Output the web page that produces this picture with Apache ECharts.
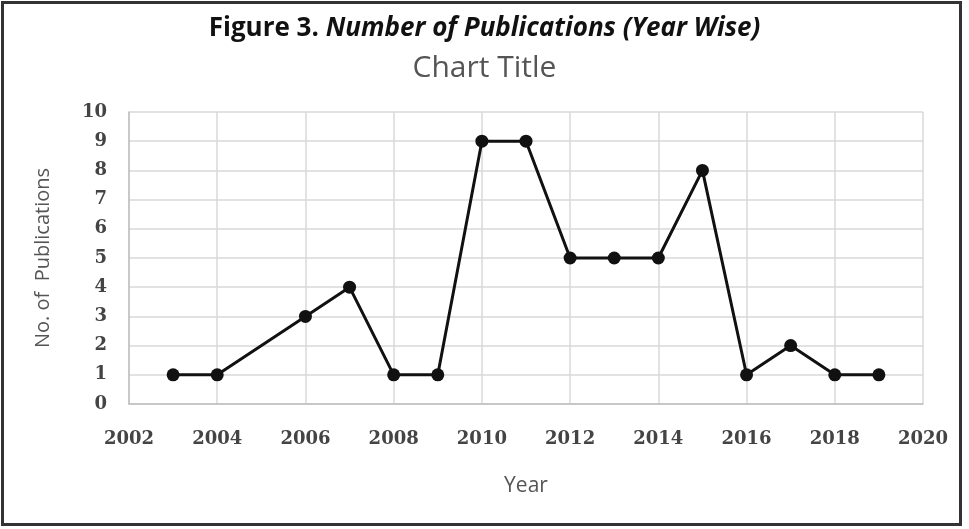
<!DOCTYPE html>
<html>
<head>
<meta charset="utf-8">
<script src="https://cdn.jsdelivr.net/npm/echarts@6/dist/echarts.min.js"></script>
<style>
html,body{margin:0;padding:0;background:#fff;}
#chart{width:969px;height:529px;}
</style>
</head>
<body>
<div id="chart"></div>
<script>
const years = [2003, 2004, 2006, 2007, 2008, 2009, 2010, 2011, 2012, 2013, 2014, 2015, 2016, 2017, 2018, 2019];
const publications = [1, 1, 3, 4, 1, 1, 9, 9, 5, 5, 5, 8, 1, 2, 1, 1];
const figureLabel = 'Figure 3.';
const figureCaption = 'Number of Publications (Year Wise)';
const chartTitle = 'Chart Title';
const xAxisName = 'Year';
const yAxisName = 'No. of  Publications';

const chart = echarts.init(document.getElementById('chart'), null, {renderer: 'canvas'});
const tickFont = {fontFamily: 'DejaVu Serif', fontWeight: 'bold', fontSize: 18, color: '#444'};
chart.setOption({
  animation: false,
  backgroundColor: '#fff',
  title: [
    {
      text: '{a|' + figureLabel + ' }{b|' + figureCaption + '}',
      left: 'center', top: 11,
      textStyle: {
        rich: {
          a: {fontFamily: 'Open Sans', fontWeight: 'bold', fontSize: 26, color: '#111'},
          b: {fontFamily: 'Open Sans', fontWeight: 'bold', fontStyle: 'italic', fontSize: 26, color: '#111'}
        }
      }
    },
    {
      text: chartTitle, left: 'center', top: 48,
      textStyle: {fontFamily: 'Open Sans', fontWeight: 'normal', fontSize: 30, color: '#555'}
    }
  ],
  graphic: [{
    type: 'rect', silent: true,
    shape: {x: 2.5, y: 2.5, width: 958, height: 522},
    style: {fill: 'none', stroke: '#333', lineWidth: 3}
  }],
  grid: {left: 129, right: 969 - 923, top: 112, bottom: 529 - 404, containLabel: false},
  xAxis: {
    type: 'value', min: 2002, max: 2020, interval: 2,
    name: xAxisName, nameLocation: 'middle', nameGap: 72,
    nameTextStyle: {fontFamily: 'Open Sans', fontSize: 21, color: '#555'},
    axisLine: {show: true, lineStyle: {color: '#bfbfbf', width: 1.5}},
    axisTick: {show: false},
    splitLine: {show: true, lineStyle: {color: '#d9d9d9', width: 1.5}},
    axisLabel: Object.assign({margin: 26, formatter: v => String(v)}, tickFont)
  },
  yAxis: {
    type: 'value', min: 0, max: 10, interval: 1,
    name: yAxisName, nameLocation: 'middle', nameGap: 76,
    nameTextStyle: {fontFamily: 'Open Sans', fontSize: 20, color: '#555'},
    axisLine: {show: true, lineStyle: {color: '#bfbfbf', width: 1.5}},
    axisTick: {show: false},
    splitLine: {show: true, lineStyle: {color: '#d9d9d9', width: 1.5}},
    axisLabel: Object.assign({margin: 22}, tickFont)
  },
  series: [{
    type: 'line',
    data: years.map((y, i) => [y, publications[i]]),
    symbol: 'circle', symbolSize: 13,
    lineStyle: {color: '#111', width: 3},
    itemStyle: {color: '#111'},
    z: 5
  }]
});
</script>
</body>
</html>
